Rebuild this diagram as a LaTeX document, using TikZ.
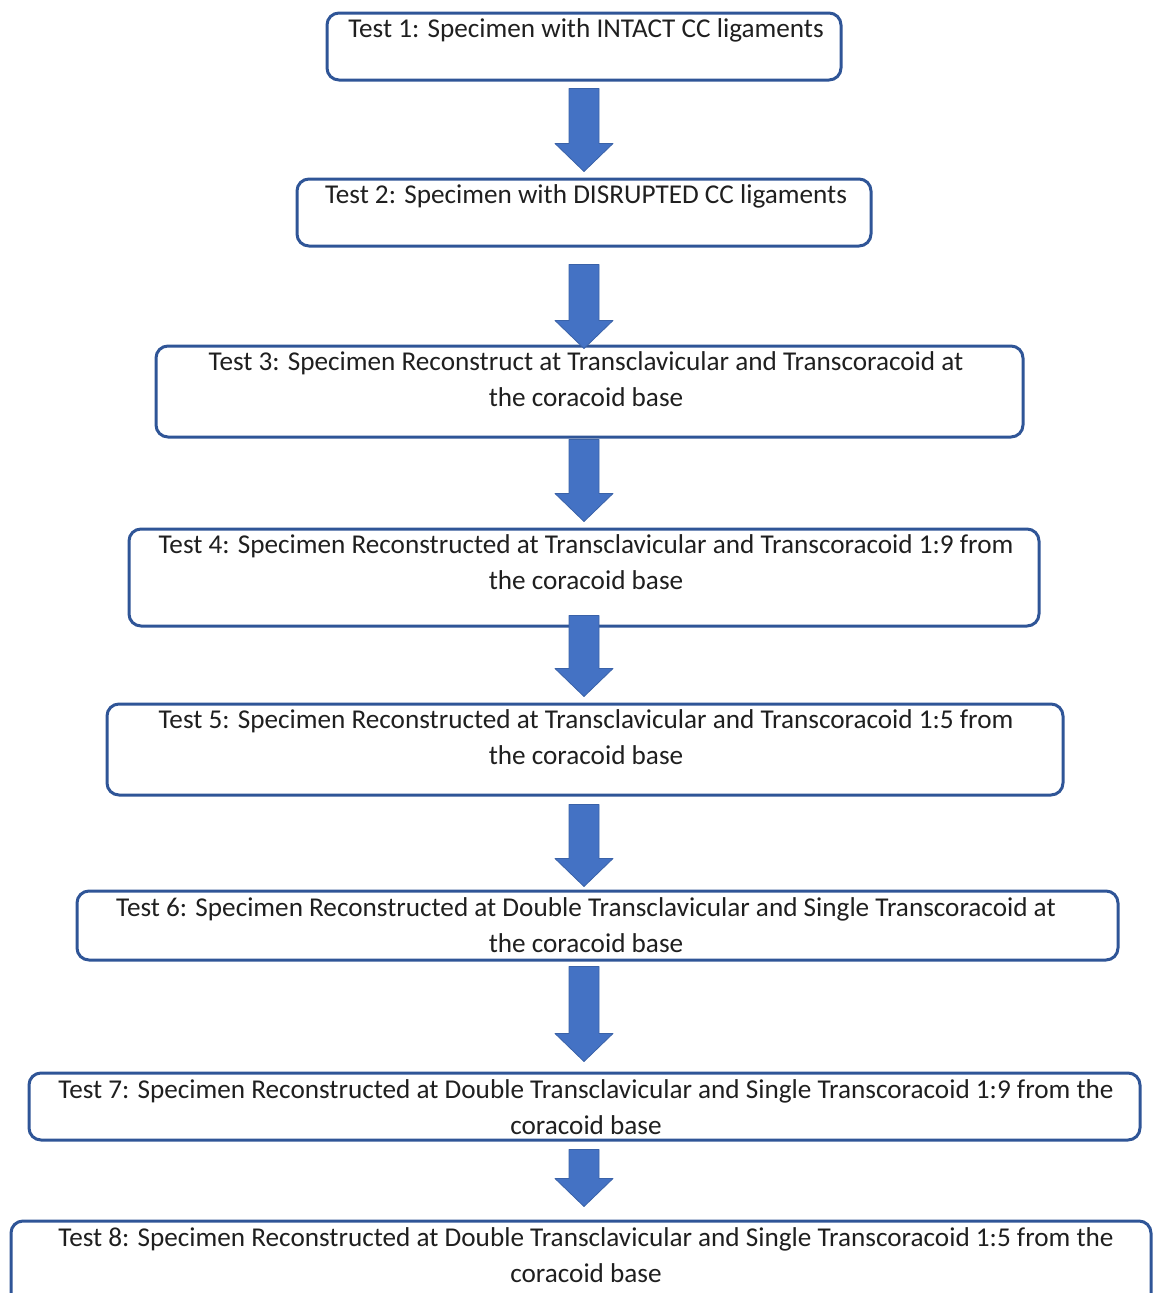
\documentclass[tikz,border=0pt]{standalone}
\usepackage{fontspec}
\setmainfont{Carlito}
\usetikzlibrary{calc,positioning}
\definecolor{boxblue}{HTML}{2F5597}
\definecolor{arrowblue}{HTML}{4472C4}
\definecolor{arrowedge}{HTML}{3A62A8}
\begin{document}
\begin{tikzpicture}[x=1pt,y=1pt, line join=round,
  testbox/.style={draw=boxblue, line width=3pt, rounded corners=12pt, inner sep=0pt},
  testtext/.style={align=center, inner sep=0pt, anchor=north, text=black!88, font=\fontsize{27.2}{36}\selectfont},
  blockarrow/.style={fill=arrowblue, draw=arrowedge, line width=0.8pt,
    to path={let \p1=(\tikztostart), \p2=(\tikztotarget) in
      (\ax-15pt,\y1) -- (\ax+15pt,\y1) -- (\ax+15pt,\y2+28pt) -- (\ax+29pt,\y2+28pt)
      -- (\ax,\y2) -- (\ax-29pt,\y2+28pt) -- (\ax-15pt,\y2+28pt) -- cycle}}]
\def\ax{584pt}
\useasboundingbox (0,0) rectangle (1155,-1293);
% boxes
\node[testbox, minimum width=514pt, minimum height=67pt] (b1) at (584,-46.5) {};
\node[testbox, minimum width=574pt, minimum height=67pt] (b2) at (584,-212.5) {};
\node[testbox, minimum width=867pt, minimum height=91pt] (b3) at (589.5,-391.5) {};
\node[testbox, minimum width=910pt, minimum height=97pt] (b4) at (584,-577.5) {};
\node[testbox, minimum width=956pt, minimum height=91pt] (b5) at (585,-749.5) {};
\node[testbox, minimum width=1041pt, minimum height=69pt] (b6) at (597.5,-925.5) {};
\node[testbox, minimum width=1111pt, minimum height=67pt] (b7) at (584.5,-1106.5) {};
\node[testbox, minimum width=1140pt, minimum height=109pt] (b8) at (581,-1275.5) {};
% texts
\node[testtext] (t1) at (586,-18) {Test 1: Specimen with INTACT CC ligaments};
\node[testtext] (t2) at (586,-184) {Test 2: Specimen with DISRUPTED CC ligaments};
\node[testtext] (t3) at (586,-351) {Test 3: Specimen Reconstruct at Transclavicular and Transcoracoid at\\the coracoid base};
\node[testtext] (t4) at (586,-534) {Test 4: Specimen Reconstructed at Transclavicular and Transcoracoid 1:9 from\\the coracoid base};
\node[testtext] (t5) at (586,-709) {Test 5: Specimen Reconstructed at Transclavicular and Transcoracoid 1:5 from\\the coracoid base};
\node[testtext] (t6) at (586,-897) {Test 6: Specimen Reconstructed at Double Transclavicular and Single Transcoracoid at\\the coracoid base};
\node[testtext] (t7) at (586,-1079) {Test 7: Specimen Reconstructed at Double Transclavicular and Single Transcoracoid 1:9 from the\\coracoid base};
\node[testtext] (t8) at (586,-1227) {Test 8: Specimen Reconstructed at Double Transclavicular and Single Transcoracoid 1:5 from the\\coracoid base};
% arrows
\draw[blockarrow] ([yshift=-7pt]b1.south) to ([yshift=6pt]b2.north);
\draw[blockarrow] ([yshift=-17pt]b2.south) to ([yshift=-4pt]b3.north);
\draw[blockarrow] ([yshift=-1pt]b3.south) to ([yshift=6pt]b4.north);
\draw[blockarrow] ([yshift=12pt]b4.south) to ([yshift=6pt]b5.north);
\draw[blockarrow] ([yshift=-8pt]b5.south) to ([yshift=3pt]b6.north);
\draw[blockarrow] ([yshift=-5pt]b6.south) to ([yshift=10pt]b7.north);
\draw[blockarrow] ([yshift=-8pt]b7.south) to ([yshift=13pt]b8.north);
\end{tikzpicture}
\end{document}
